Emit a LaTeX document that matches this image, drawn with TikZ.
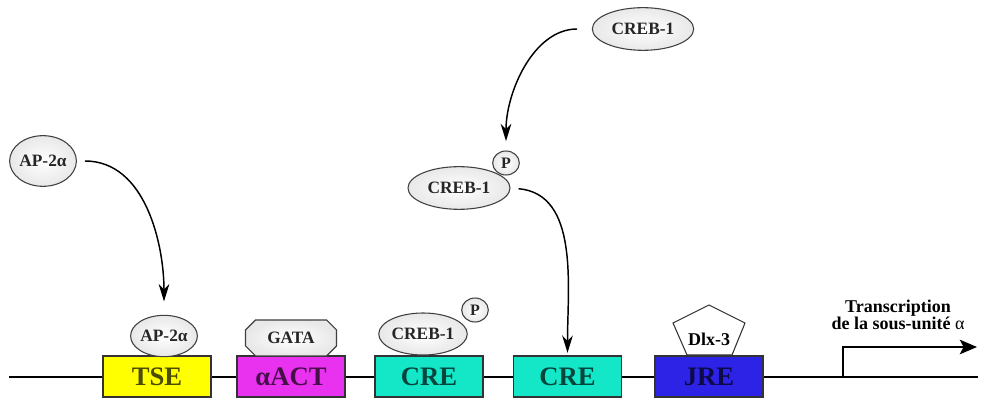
\documentclass[tikz,border=0pt]{standalone}
\usepackage{fontspec}
\setmainfont{Liberation Serif}
\usepackage{tikz}
\usetikzlibrary{arrows.meta,shapes.geometric}

\definecolor{tseY}{RGB}{255,255,0}
\definecolor{actM}{RGB}{232,50,240}
\definecolor{creC}{RGB}{20,230,200}
\definecolor{jreB}{RGB}{45,35,230}

\tikzset{
  site/.style={draw=black!80, line width=0.8pt, minimum width=81pt, minimum height=30.75pt,
    inner sep=0pt, font=\fontsize{20}{21}\selectfont\bfseries},
  prot/.style={draw=black!75, line width=0.8pt, ellipse, inner sep=0pt,
    inner color=white, outer color=gray!18, text=black!85,
    font=\fontsize{13}{14}\selectfont\bfseries},
  pho/.style={prot, minimum width=20pt, minimum height=18pt, font=\fontsize{12}{13}\selectfont\bfseries},
  bind/.style={line width=1.1pt, -{Stealth[length=13pt,width=8pt,inset=4pt]}},
}

\begin{document}
\begin{tikzpicture}[x=0.75pt,y=0.75pt]
  \useasboundingbox (0,0) rectangle (984,399);

  % DNA
  \coordinate (dnaL) at (9,22);
  \coordinate (dnaR) at (978,22);
  \draw[line width=1pt] (dnaL) -- (dnaR);

  \foreach \nm/\x/\col/\lab in {tse/157/tseY/TSE, act/291/actM/αACT, cre1/429/creC/CRE,
      cre2/567.5/creC/CRE, jre/709/jreB/JRE}
    \node[site, fill=\col, text=\col!30!black] (\nm) at (\x,22.5) {\lab};

  % start de transcription
  \coordinate (tss) at (843,22);
  \coordinate (tssend) at (977,52);
  \draw[line width=1pt, -{Stealth[length=13pt,width=11pt,inset=3pt]}] (tss) |- (tssend);
  \node[align=center, font=\fontsize{13.5}{12}\selectfont\bfseries] (txt) at (898,84)
    {Transcription\\de la sous-unité {\mdseries α}};

  % facteurs
  \node[prot, minimum width=44pt, minimum height=38pt] (apfree) at (43,238) {AP-2α};
  \node[prot, minimum width=43pt, minimum height=31pt] (apbound) at (164,63) {AP-2α};

  \node (gata) at (291,61) {};
  \draw[draw=black!75, line width=0.8pt, inner color=white, outer color=gray!18]
    ([shift={(-45.5,-8)}]gata.center) -- ++(10,-10) -- ++(71,0) -- ++(10,10) -- ++(0,16)
    -- ++(-10,10) -- ++(-71,0) -- ++(-10,-10) -- cycle;
  \node[font=\fontsize{13}{14}\selectfont\bfseries, text=black!85] at (gata.center) {GATA};

  \node[prot, minimum width=62pt, minimum height=31.5pt] (crebbound) at (423,65) {CREB-1};
  \node[pho] (pbound) at (475,89) {P};

  \node[prot, minimum width=76pt, minimum height=32pt] (crebfree) at (643,370) {CREB-1};
  \node[prot, minimum width=76.5pt, minimum height=32pt] (crebmid) at (459,211) {CREB-1};
  \node[pho] (pfree) at (506,236) {P};

  \node[font=\fontsize{13.5}{14}\selectfont\bfseries] (dlx) at (709,60) {Dlx-3};
  \draw[line width=0.8pt, draw=black!80] ([shift={(-22,-16)}]dlx.center) -- ++(45,0)
    -- ++(13,32) -- ++(-36,18) -- ++(-36,-18) -- cycle;

  % fleches
  \draw[bind, shorten <=6pt, shorten >=10pt] (apfree.east) to[out=0,in=90] (apbound.north);
  \draw[bind, shorten <=11pt, shorten >=7pt] (crebfree.west) to[out=180,in=90] (pfree.north);
  \draw[bind, shorten <=6pt, shorten >=2pt] (crebmid.east) to[out=-5,in=90] (cre2.north);
\end{tikzpicture}
\end{document}
